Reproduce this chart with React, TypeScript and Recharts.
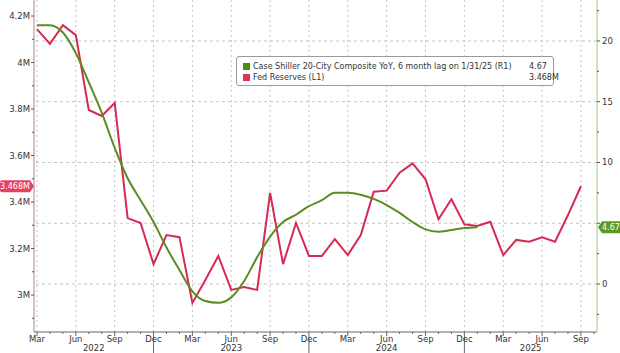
import { LineChart, Line, XAxis, YAxis, ReferenceLine } from 'recharts'

// month-end points, Mar 2022 .. Sep 2025
const months = [
  '2022-03', '2022-04', '2022-05', '2022-06', '2022-07', '2022-08', '2022-09', '2022-10', '2022-11', '2022-12',
  '2023-01', '2023-02', '2023-03', '2023-04', '2023-05', '2023-06', '2023-07', '2023-08', '2023-09', '2023-10',
  '2023-11', '2023-12', '2024-01', '2024-02', '2024-03', '2024-04', '2024-05', '2024-06', '2024-07', '2024-08',
  '2024-09', '2024-10', '2024-11', '2024-12', '2025-01', '2025-02', '2025-03', '2025-04', '2025-05', '2025-06',
  '2025-07', '2025-08', '2025-09',
]

// Fed Reserves, trillions (L1)
const fedReserves = [
  4.144, 4.08, 4.161, 4.118, 3.796, 3.77, 3.826, 3.331, 3.31, 3.133,
  3.258, 3.249, 2.966, 3.065, 3.168, 3.022, 3.034, 3.022, 3.439, 3.133,
  3.31, 3.168, 3.168, 3.241, 3.172, 3.258, 3.444, 3.449, 3.526, 3.566,
  3.498, 3.326, 3.412, 3.304, 3.297, 3.315, 3.172, 3.237, 3.229, 3.248,
  3.229, 3.344, 3.468,
]

// Case Shiller 20-City YoY %, 6 month lag (R1)
const caseShiller = [
  21.3, 21.3, 20.7, 19.0, 16.6, 14.1, 11.2, 8.7, 6.9, 5.1,
  3.0, 1.15, -0.6, -1.4, -1.55, -1.1, 0.25, 2.2, 3.9, 5.1,
  5.7, 6.4, 6.9, 7.5, 7.5, 7.35, 7.0, 6.5, 5.85, 5.1,
  4.5, 4.3, 4.45, 4.6, 4.67,
]

const monthNames = ['Jan', 'Feb', 'Mar', 'Apr', 'May', 'Jun', 'Jul', 'Aug', 'Sep', 'Oct', 'Nov', 'Dec']
const quarterNames = ['Mar', 'Jun', 'Sep', 'Dec']
const years = [2022, 2023, 2024, 2025]
const leftTicks = [2.9, 3.0, 3.1, 3.2, 3.3, 3.4, 3.5, 3.6, 3.7, 3.8, 3.9, 4.0, 4.1, 4.2]
const rightTicks = [-2.5, 0, 2.5, 5, 7.5, 10, 12.5, 15, 17.5, 20, 22.5]
const rightGrid = [0, 5, 10, 15, 20]

const fedLast = '3.468M'
const csLast = '4.67'

const X_MIN = 1.77
const X_MAX = 45.24
const FONT = '"DejaVu Sans", sans-serif'
const RED = '#d62a53'
const GREEN = '#5a8c22'

const monthIndex = (s: string) => {
  const [y, m] = s.split('-').map(Number)
  return (y - 2022) * 12 + m - 1
}

const data = months.map((s, i) => ({
  t: monthIndex(s),
  fed: fedReserves[i],
  cs: i < caseShiller.length ? caseShiller[i] : null,
}))

const monthTicks = [...data.map((d) => d.t), data[data.length - 1].t + 1]
const quarterTicks = monthTicks.filter((t) => quarterNames.includes(monthNames[t % 12]))
const yearCenters = years.map((y) => {
  const start = Math.max((y - 2022) * 12 - 1, X_MIN)
  const end = Math.min((y - 2022) * 12 + 11, X_MAX)
  return (start + end) / 2
})

const MonthTick = (props: any) => {
  const { x, y, payload } = props
  const name = monthNames[payload.value % 12]
  const major = quarterNames.includes(name)
  const len = name === 'Dec' ? 21 : major ? 4 : 2
  return (
    <g>
      <line x1={x} x2={x} y1={y} y2={y + len} stroke="#666" />
      {major && (
        <text x={x} y={y + 10} textAnchor="middle" fontSize={8.5} fill="#333" fontFamily={FONT}>
          {name}
        </text>
      )}
    </g>
  )
}

const YearTick = (props: any) => {
  const { x, y, payload } = props
  const idx = yearCenters.indexOf(payload.value)
  return (
    <text x={x} y={y + 8} textAnchor="middle" fontSize={8.5} fill="#333" fontFamily={FONT}>
      {years[idx]}
    </text>
  )
}

const LeftTick = (props: any) => {
  const { x, y, payload } = props
  const v = payload.value
  const major = Math.round(v * 10) % 2 === 0
  return (
    <g>
      <line x1={x - (major ? 3 : 2)} x2={x} y1={y} y2={y} stroke="#555" />
      {major && (
        <text x={x - 4} y={y} dy={3} textAnchor="end" fontSize={8.5} fill="#333" fontFamily={FONT}>
          {Number(v.toFixed(1))}M
        </text>
      )}
    </g>
  )
}

const RightTick = (props: any) => {
  const { x, y, payload } = props
  const v = payload.value
  const major = v % 5 === 0
  return (
    <g>
      <line x1={x} x2={x + (major ? 3 : 2)} y1={y} y2={y} stroke="#555" />
      {major && v !== 5 && (
        <text x={x + 5} y={y} dy={3} textAnchor="start" fontSize={8.5} fill="#333" fontFamily={FONT}>
          {v}
        </text>
      )}
    </g>
  )
}

const LeftBadge = (props: any) => {
  const { x, y } = props.viewBox
  const l = x - 34
  return (
    <g>
      <path
        d={`M${l + 2},${y - 6} L${x - 4},${y - 6} L${x},${y} L${x - 4},${y + 6} L${l + 2},${y + 6} Q${l},${y + 6} ${l},${y + 4} L${l},${y - 4} Q${l},${y - 6} ${l + 2},${y - 6} Z`}
        fill="#e6405f"
      />
      <text x={l + 15} y={y} dy={3} textAnchor="middle" fontSize={8} fill="#fff" fontFamily={FONT}>
        {fedLast}
      </text>
    </g>
  )
}

const RightBadge = (props: any) => {
  const { x, y, width } = props.viewBox
  const r = x + width + 1
  return (
    <g>
      <path
        d={`M${r},${y} L${r + 4},${y - 6} L${r + 22},${y - 6} L${r + 22},${y + 6} L${r + 4},${y + 6} Z`}
        fill="#5e9a22"
      />
      <text x={r + 13} y={y} dy={3} textAnchor="middle" fontSize={8} fill="#fff" fontFamily={FONT}>
        {csLast}
      </text>
    </g>
  )
}

const LegendBox = () => (
  <div
    style={{
      position: 'absolute',
      left: 236,
      top: 56,
      width: 318,
      height: 30,
      border: '1px solid #9a9a9a',
      borderRadius: 3,
      background: '#fff',
      fontFamily: FONT,
      fontSize: 8,
      color: '#333',
      boxSizing: 'border-box',
      paddingTop: 4,
    }}
  >
    {[
      { color: '#4f8a14', label: 'Case Shiller 20-City Composite YoY, 6 month lag on 1/31/25 (R1)', value: csLast },
      { color: '#e03355', label: 'Fed Reserves (L1)', value: fedLast },
    ].map((row) => (
      <div key={row.label} style={{ position: 'relative', height: 11, lineHeight: '11px' }}>
        <span
          style={{
            position: 'absolute',
            left: 6,
            top: 2,
            width: 7,
            height: 7,
            background: row.color,
          }}
        />
        <span style={{ position: 'absolute', left: 16, whiteSpace: 'nowrap' }}>{row.label}</span>
        <span style={{ position: 'absolute', left: 292, whiteSpace: 'nowrap' }}>{row.value}</span>
      </div>
    ))}
  </div>
)

const App = () => {
  return (
    <div style={{ position: 'absolute', left: 0, top: 0, width: 620, height: 353, background: '#fff' }}>
      <LineChart width={620} height={353} data={data} margin={{ top: 0, right: 0, bottom: 0, left: 0 }}>
        <XAxis
          xAxisId="m"
          dataKey="t"
          type="number"
          domain={[X_MIN, X_MAX]}
          ticks={monthTicks}
          interval={0}
          height={11}
          tickSize={0}
          tickMargin={0}
          tickLine={false}
          axisLine={{ stroke: '#666' }}
          tick={<MonthTick />}
          allowDataOverflow
        />
        <XAxis
          xAxisId="yr"
          dataKey="t"
          type="number"
          domain={[X_MIN, X_MAX]}
          ticks={yearCenters}
          interval={0}
          height={10}
          tickSize={0}
          tickMargin={0}
          tickLine={false}
          axisLine={false}
          tick={<YearTick />}
          allowDataOverflow
        />
        <YAxis
          yAxisId="l"
          orientation="left"
          width={34}
          type="number"
          domain={[2.841, 4.269]}
          ticks={leftTicks}
          interval={0}
          tickSize={0}
          tickMargin={0}
          tickLine={false}
          axisLine={{ stroke: '#a78596' }}
          tick={<LeftTick />}
          allowDataOverflow
        />
        <YAxis
          yAxisId="r"
          orientation="right"
          width={23}
          type="number"
          domain={[-3.95, 23.37]}
          ticks={rightTicks}
          interval={0}
          tickSize={0}
          tickMargin={0}
          tickLine={false}
          axisLine={{ stroke: '#a9c47a' }}
          tick={<RightTick />}
          allowDataOverflow
        />

        {quarterTicks.map((t) => (
          <ReferenceLine
            key={`v${t}`}
            xAxisId="m"
            yAxisId="l"
            x={t}
            stroke="#c4c4c4"
            strokeDasharray="2 3"
          />
        ))}
        {rightGrid.map((v) => (
          <ReferenceLine
            key={`h${v}`}
            xAxisId="m"
            yAxisId="r"
            y={v}
            stroke="#c4c4c4"
            strokeDasharray="3 3"
          />
        ))}

        <Line
          xAxisId="m"
          yAxisId="l"
          dataKey="fed"
          stroke={RED}
          strokeWidth={2}
          dot={false}
          isAnimationActive={false}
        />
        <Line
          xAxisId="m"
          yAxisId="r"
          dataKey="cs"
          type="monotone"
          stroke={GREEN}
          strokeWidth={2}
          dot={false}
          isAnimationActive={false}
        />

        <ReferenceLine xAxisId="m" yAxisId="l" y={3.468} stroke="none" label={<LeftBadge />} />
        <ReferenceLine xAxisId="m" yAxisId="r" y={4.67} stroke="none" label={<RightBadge />} />
      </LineChart>
      <LegendBox />
    </div>
  )
}

export default App
